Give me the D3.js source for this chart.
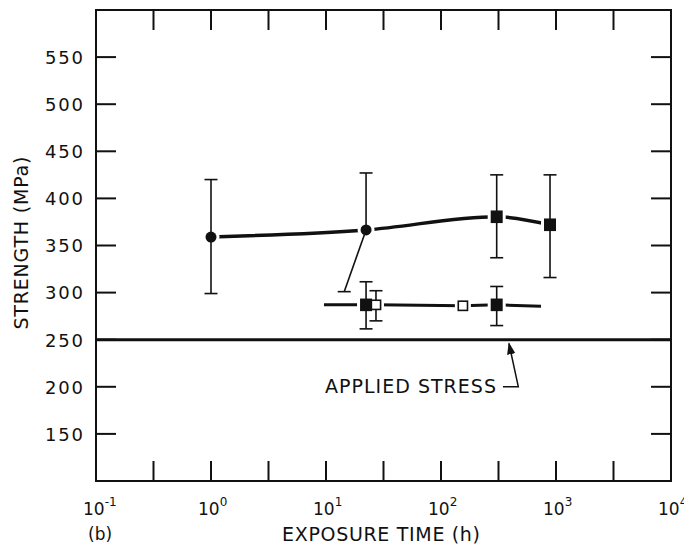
<!DOCTYPE html>
<html><head><meta charset="utf-8">
<script src="https://cdn.jsdelivr.net/npm/d3@7"></script>
<style>body{margin:0;background:#fff}</style>
</head><body>
<svg id="chart" width="684" height="555"></svg>
<script>
// ---- data ----
const yTickValues = [150, 200, 250, 300, 350, 400, 450, 500, 550];
const xLabelExponents = [-1, 0, 1, 2, 3, 4];
const xTickExponents = [-0.5, 0, 0.5, 1, 1.5, 2, 2.5, 3, 3.5];

const upperTime = [1.0, 22.3, 305, 887];
const upperStrength = [359, 366.5, 380.5, 372];
const upperErrHi = [420, 427, 425, 425];
const upperErrLo = [299, 301, 337, 316];
const upperErrLoTime = [1.0, 14.4, 305, 887];   // lower bar of 2nd point drawn slanted
const upperMarker = ["circle", "circle", "square", "square"];

const lowerTime = [22.3, 27.2, 155, 305];
const lowerStrength = [287, 287, 286, 287];
const lowerErrHi = [311.5, 302, null, 306.5];
const lowerErrLo = [261.5, 270, null, 265];
const lowerMarker = ["filled", "open", "open", "filled"];

const lowerLineTime = [9.6, 22.3, 27.2, 155, 305, 740];
const lowerLineStrength = [287, 287, 287, 286, 287, 285.5];

const appliedStress = 250;
const annotText = "APPLIED STRESS";
const annotTextPos = [9.8, 193.5];
const annotPath = [[346, 200.1], [470, 200.1], [390, 246]];

const yTitle = "STRENGTH (MPa)";
const xTitle = "EXPOSURE TIME (h)";
const panelLabel = "(b)";

// ---- layout ----
const svg = d3.select("#chart");
const L = 96, R = 671, T = 10, B = 481;
const x = d3.scaleLog().domain([0.1, 1e4]).range([L, R]);
const y = d3.scaleLinear().domain([100, 600]).range([B, T]);
const ink = "#111";
const font = "'DejaVu Sans', 'Liberation Sans', sans-serif";

// applied stress line
svg.append("line")
  .attr("x1", x(0.1)).attr("x2", x(1e4))
  .attr("y1", y(appliedStress)).attr("y2", y(appliedStress))
  .attr("stroke", ink).attr("stroke-width", 3);

// frame
svg.append("rect").attr("x", L).attr("y", T).attr("width", R - L).attr("height", B - T)
  .attr("fill", "none").attr("stroke", ink).attr("stroke-width", 2);

// ticks
const tl = 20;
const gT = svg.append("g").attr("stroke", ink).attr("stroke-width", 2);
yTickValues.forEach(v => {
  gT.append("line").attr("x1", L).attr("x2", L + tl).attr("y1", y(v)).attr("y2", y(v));
  gT.append("line").attr("x1", R - tl).attr("x2", R).attr("y1", y(v)).attr("y2", y(v));
});
xTickExponents.forEach(e => {
  const px = x(Math.pow(10, e));
  gT.append("line").attr("x1", px).attr("x2", px).attr("y1", B).attr("y2", B - tl);
  gT.append("line").attr("x1", px).attr("x2", px).attr("y1", T).attr("y2", T + tl);
});

// y tick labels
svg.append("g").selectAll("text").data(yTickValues).join("text")
  .attr("x", 83).attr("y", d => y(d) + 6.8)
  .attr("text-anchor", "end")
  .attr("font-family", font).attr("font-size", 18).attr("fill", ink)
  .attr("textLength", 38).attr("lengthAdjust", "spacing")
  .text(d => d);

// x tick labels
xLabelExponents.forEach(e => {
  const px = x(Math.pow(10, e));
  const t = svg.append("text")
    .attr("x", px - 13).attr("y", 515)
    .attr("font-family", font).attr("font-size", 17).attr("fill", ink);
  t.append("tspan").text("10");
  t.append("tspan").attr("font-size", 12).attr("dy", -9).text(e < 0 ? "-" + Math.abs(e) : e);
});

// titles
svg.append("text").attr("x", 88).attr("y", 540)
  .attr("font-family", font).attr("font-size", 17).attr("fill", ink).text(panelLabel);
svg.append("text").attr("x", 282).attr("y", 541)
  .attr("font-family", font).attr("font-size", 19).attr("fill", ink)
  .attr("textLength", 198).attr("lengthAdjust", "spacing").text(xTitle);
svg.append("text")
  .attr("transform", "translate(28,243) rotate(-90)")
  .attr("text-anchor", "middle")
  .attr("font-family", font).attr("font-size", 19).attr("fill", ink)
  .attr("textLength", 173).attr("lengthAdjust", "spacing").text(yTitle);

// annotation
svg.append("text").attr("x", x(annotTextPos[0])).attr("y", y(annotTextPos[1]))
  .attr("font-family", font).attr("font-size", 19).attr("fill", ink)
  .attr("textLength", 171).attr("lengthAdjust", "spacing").text(annotText);
svg.append("defs").append("marker").attr("id", "arr")
  .attr("viewBox", "0 0 10 10").attr("refX", 9).attr("refY", 5)
  .attr("markerWidth", 8).attr("markerHeight", 8).attr("orient", "auto")
  .append("path").attr("d", "M0,1.5 L10,5 L0,8.5 Z").attr("fill", ink);
svg.append("path")
  .attr("d", d3.line().x(d => x(d[0])).y(d => y(d[1]))(annotPath))
  .attr("fill", "none").attr("stroke", ink).attr("stroke-width", 1.5)
  .attr("marker-end", "url(#arr)");

// upper curve
const upperPts = upperTime.map((t, i) => [x(t), y(upperStrength[i])]);
svg.append("path")
  .attr("d", d3.line().curve(d3.curveMonotoneX)(upperPts))
  .attr("fill", "none").attr("stroke", ink).attr("stroke-width", 3.5);

// lower line
const lowerPts = lowerLineTime.map((t, i) => [x(t), y(lowerLineStrength[i])]);
svg.append("path")
  .attr("d", d3.line()(lowerPts))
  .attr("fill", "none").attr("stroke", ink).attr("stroke-width", 3);

// halos (gaps around markers)
const halo = svg.append("g").attr("fill", "#fff");
upperTime.forEach((t, i) => {
  if (upperMarker[i] === "circle")
    halo.append("circle").attr("cx", x(t)).attr("cy", y(upperStrength[i])).attr("r", 8.5);
  else
    halo.append("rect").attr("x", x(t) - 9).attr("y", y(upperStrength[i]) - 9).attr("width", 18).attr("height", 18);
});
lowerTime.forEach((t, i) => {
  const s = lowerMarker[i] === "filled" ? 9 : 8;
  halo.append("rect").attr("x", x(t) - s).attr("y", y(lowerStrength[i]) - s).attr("width", 2 * s).attr("height", 2 * s);
});

// error bars
const eb = svg.append("g").attr("stroke", ink).attr("stroke-width", 1.6);
const cap = 6.5;
function errBar(t, v, hi, lo, loT) {
  const px = x(t), pv = y(v);
  eb.append("line").attr("x1", px).attr("x2", px).attr("y1", y(hi)).attr("y2", pv);
  eb.append("line").attr("x1", px - cap).attr("x2", px + cap).attr("y1", y(hi)).attr("y2", y(hi));
  const lx = x(loT);
  eb.append("line").attr("x1", px).attr("x2", lx).attr("y1", pv).attr("y2", y(lo));
  eb.append("line").attr("x1", lx - cap).attr("x2", lx + cap).attr("y1", y(lo)).attr("y2", y(lo));
}
upperTime.forEach((t, i) => errBar(t, upperStrength[i], upperErrHi[i], upperErrLo[i], upperErrLoTime[i]));
lowerTime.forEach((t, i) => {
  if (lowerErrHi[i] != null) errBar(t, lowerStrength[i], lowerErrHi[i], lowerErrLo[i], t);
});

// markers
const mk = svg.append("g");
upperTime.forEach((t, i) => {
  if (upperMarker[i] === "circle")
    mk.append("circle").attr("cx", x(t)).attr("cy", y(upperStrength[i])).attr("r", 5.5).attr("fill", ink);
  else
    mk.append("rect").attr("x", x(t) - 6).attr("y", y(upperStrength[i]) - 6.3).attr("width", 12).attr("height", 12.6).attr("fill", ink);
});
lowerTime.forEach((t, i) => {
  if (lowerMarker[i] === "filled")
    mk.append("rect").attr("x", x(t) - 6).attr("y", y(lowerStrength[i]) - 6.3).attr("width", 12).attr("height", 12.6).attr("fill", ink);
  else
    mk.append("rect").attr("x", x(t) - 4.6).attr("y", y(lowerStrength[i]) - 4.6).attr("width", 9.2).attr("height", 9.2)
      .attr("fill", "#fff").attr("stroke", ink).attr("stroke-width", 1.6);
});
</script>
</body></html>
